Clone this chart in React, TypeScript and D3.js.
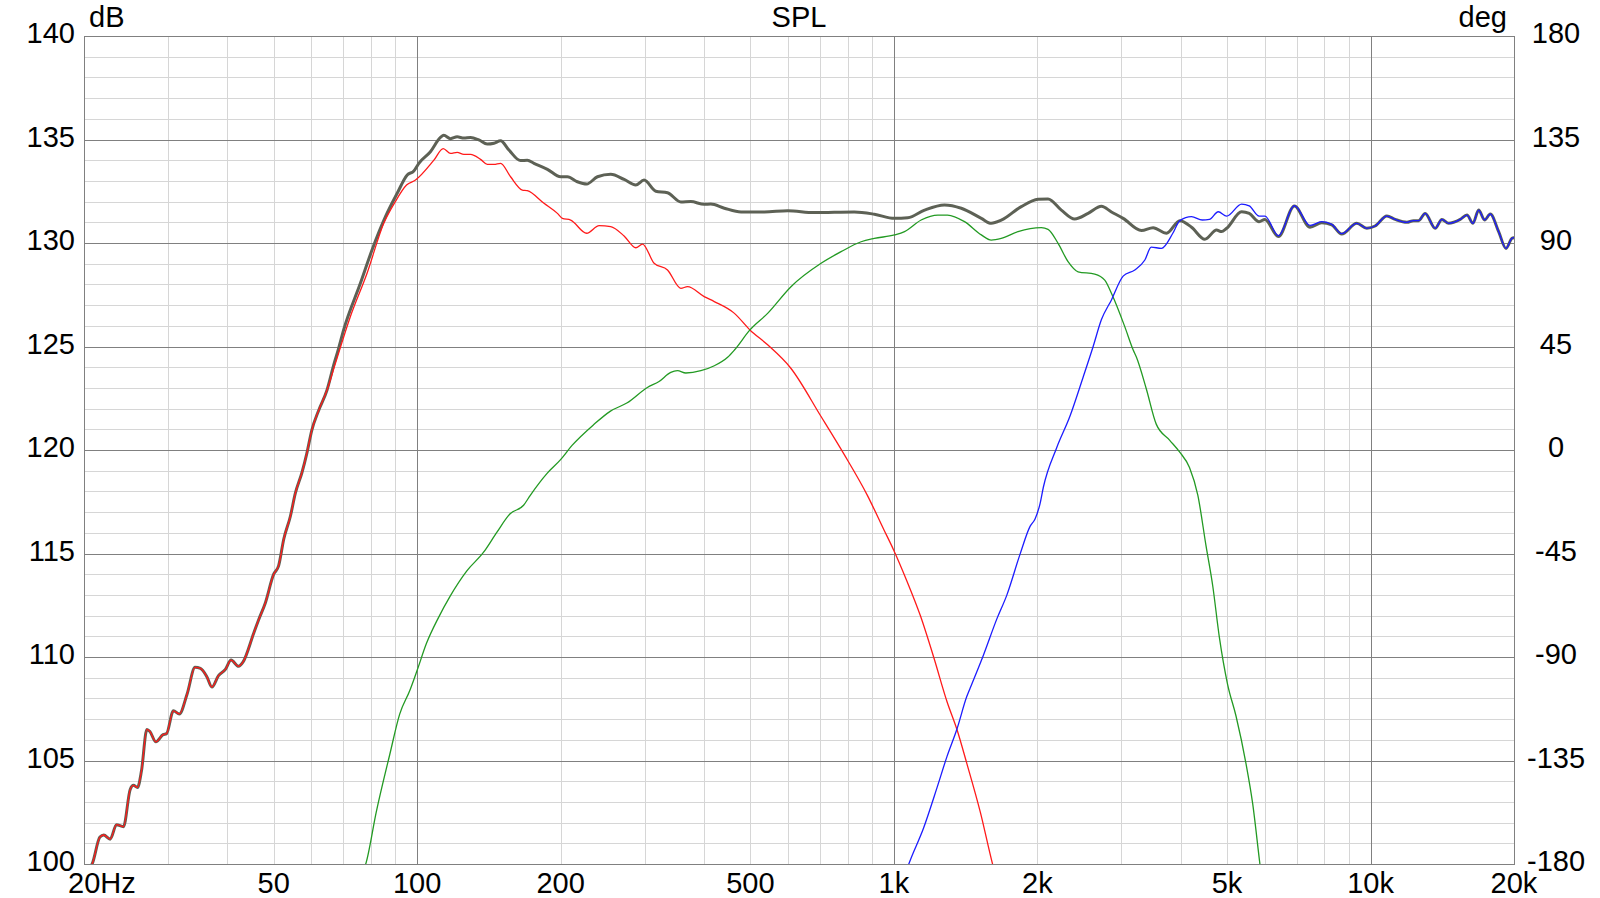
import * as d3 from "d3";

// axis ticks
const FREQ_TICKS = [20, 50, 100, 200, 500, 1000, 2000, 5000, 10000, 20000];
const FREQ_LABELS = ["20Hz", "50", "100", "200", "500", "1k", "2k", "5k", "10k", "20k"];
const DB_TICKS = [100, 105, 110, 115, 120, 125, 130, 135, 140];
const DEG_TICKS = [-180, -135, -90, -45, 0, 45, 90, 135, 180];

// total response [Hz, dB]
const SUM: [number, number][] = [
  [20, 99.6], [20.8, 100.0], [21.6, 101.3], [22.0, 101.4], [22.7, 101.2], [23.4, 101.9], [24.2, 101.8],
  [25.0, 103.6], [25.4, 103.8], [25.9, 103.7], [26.4, 104.5], [27.1, 106.5], [27.5, 106.4], [28.3, 105.9],
  [29.3, 106.25], [29.8, 106.3], [30.8, 107.4], [31.7, 107.25], [32.9, 108.2], [34.2, 109.5], [35.1, 109.45],
  [36.2, 109.05], [37.1, 108.55], [38.3, 109.1], [39.6, 109.4], [40.7, 109.85], [42.2, 109.55], [43.1, 109.75],
  [45.4, 111.15], [46.5, 111.8], [48, 112.6], [50, 114.0], [51.2, 114.4], [52.5, 115.7], [54.2, 116.8],
  [55.5, 117.9], [57.3, 118.9], [58.7, 119.85], [60.1, 120.95], [62.1, 121.9], [64.7, 122.9], [66.8, 124.1],
  [68.4, 124.9], [70.1, 125.8], [76, 128.05], [80.4, 129.66], [85.8, 131.27], [90.8, 132.4], [95.3, 133.29],
  [98.4, 133.48], [100.8, 133.85], [106.6, 134.41], [111.9, 135.1], [113.7, 135.2], [117.5, 135.04],
  [121.3, 135.13], [125.3, 135.07], [129.4, 135.1], [134.7, 134.98], [140.3, 134.78], [144.9, 134.82],
  [149.6, 134.94], [155.8, 134.49], [164.8, 133.98], [170.2, 134.0], [175.8, 133.85], [187.6, 133.56],
  [200, 133.2], [206.6, 133.2], [216.8, 132.96], [226.8, 132.85], [238.9, 133.2], [254.7, 133.32],
  [271.7, 133.07], [287.5, 132.8], [299.2, 133.04], [316.7, 132.5], [335.1, 132.43], [357.4, 131.98],
  [375, 132.0], [400, 131.87], [413, 131.88], [441, 131.68], [478, 131.5], [535, 131.5], [599, 131.56],
  [681, 131.47], [826, 131.5], [910, 131.39], [1003, 131.19], [1070, 131.22], [1160, 131.59], [1277, 131.84],
  [1385, 131.68], [1526, 131.19], [1601, 130.95], [1680, 131.1], [1851, 131.76], [2007, 132.11],
  [2106, 132.13], [2246, 131.59], [2395, 131.16], [2556, 131.43], [2726, 131.77], [2861, 131.5],
  [3027, 131.19], [3307, 130.6], [3499, 130.74], [3733, 130.47], [3981, 131.08], [4212, 130.76],
  [4493, 130.18], [4754, 130.63], [4868, 130.55], [4991, 130.71], [5365, 131.51], [5567, 131.43],
  [5838, 131.03], [6005, 131.14], [6409, 130.31], [6923, 131.79], [7467, 130.76], [7901, 130.98],
  [8294, 130.87], [8700, 130.43], [9359, 130.95], [9822, 130.71], [10224, 130.82], [10820, 131.3],
  [11265, 131.14], [11920, 131.0], [12311, 131.08], [12612, 131.08], [13022, 131.43], [13667, 130.71],
  [14118, 131.14], [14582, 130.95], [15427, 131.14], [15935, 131.35], [16403, 130.95], [16858, 131.59],
  [17354, 131.11], [17836, 131.4], [18570, 130.55], [19241, 129.74], [19807, 130.23], [20000, 130.26],
];

// woofer
const WOOFER: [number, number][] = [
  [20, 99.6], [20.8, 100.0], [21.6, 101.3], [22.0, 101.4], [22.7, 101.2], [23.4, 101.9], [24.2, 101.8],
  [25.0, 103.6], [25.4, 103.8], [25.9, 103.7], [26.4, 104.5], [27.1, 106.5], [27.5, 106.4], [28.3, 105.9],
  [29.3, 106.25], [29.8, 106.3], [30.8, 107.4], [31.7, 107.25], [32.9, 108.2], [34.2, 109.5], [35.1, 109.45],
  [36.2, 109.05], [37.1, 108.55], [38.3, 109.1], [39.6, 109.4], [40.7, 109.85], [42.2, 109.55], [43.1, 109.75],
  [45.4, 111.15], [46.5, 111.8], [48, 112.6], [50, 114.0], [51.2, 114.4], [52.5, 115.7], [54.2, 116.8],
  [55.5, 117.9], [57.3, 118.9], [58.7, 119.85], [60.1, 120.95], [62.1, 121.9], [64.7, 122.9], [67.4, 124.2],
  [72.4, 126.44], [78.5, 128.54], [85.1, 130.95], [90, 132.0], [95, 132.8], [99.2, 133.04], [108.4, 134.0],
  [113.4, 134.56], [117.5, 134.33], [121.3, 134.38], [125.3, 134.28], [129.4, 134.28], [135.8, 134.04],
  [140.3, 133.8], [144.9, 133.8], [149.6, 133.85], [157, 133.2], [166.2, 132.56], [170.2, 132.53],
  [184.5, 131.92], [196.9, 131.43], [201.7, 131.19], [209.9, 131.11], [226.8, 130.47], [240.8, 130.84],
  [254.7, 130.79], [271.7, 130.34], [287.5, 129.77], [297, 129.95], [314.1, 129.02], [335.1, 128.7],
  [357.4, 127.81], [369, 127.89], [400, 127.41], [420, 127.17], [463, 126.6], [499, 125.8], [543.5, 125.08],
  [608, 123.95], [703, 121.63], [786, 119.8], [880, 117.81], [953, 116.15], [1000, 115.15], [1066, 113.65],
  [1137, 111.99], [1212, 110.0], [1293, 107.84], [1356, 106.51], [1423, 104.85], [1518, 102.52],
  [1613, 99.95], [1660, 98.9],
];

// midrange
const MID: [number, number][] = [
  [76, 99.4], [78, 100], [82.1, 102.53], [87.6, 105.29], [91.9, 107.24], [96.5, 108.38], [100, 109.36],
  [104.6, 110.66], [110.7, 111.88], [117.2, 112.93], [127, 114.15], [137.7, 115.05], [146.9, 116.02],
  [156.7, 116.92], [167.2, 117.33], [172.7, 117.81], [187.3, 118.87], [199.7, 119.52], [211.3, 120.22],
  [234.7, 121.23], [254.4, 121.88], [275.9, 122.28], [304, 123.02], [321.7, 123.31], [340.4, 123.75],
  [351.6, 123.83], [366.1, 123.72], [393.7, 123.83], [420.1, 124.07], [448, 124.48], [463, 124.83],
  [499, 125.8], [543.5, 126.6], [608.4, 127.89], [703.6, 129.02], [775, 129.58], [853.7, 130.06],
  [910, 130.22], [1003, 130.39], [1053, 130.55], [1141, 131.11], [1237, 131.35], [1296, 131.35],
  [1407, 131.03], [1526, 130.39], [1601, 130.14], [1680, 130.22], [1822, 130.55], [2039, 130.74],
  [2106, 130.66], [2211, 129.98], [2320, 129.1], [2435, 128.61], [2639, 128.5], [2770, 128.21],
  [2870, 127.5], [3051, 125.96], [3178, 124.83], [3227, 124.49], [3385, 122.96], [3552, 121.25],
  [3788, 120.48], [3975, 119.91], [4171, 119.15], [4342, 117.82], [4520, 115.34], [4667, 113.43],
  [4818, 110.96], [5015, 108.67], [5222, 107.15], [5479, 104.86], [5657, 102.95], [5861, 100], [5950, 98.8],
];

// tweeter
const TWEETER: [number, number][] = [
  [1060, 99.6], [1075, 100], [1155, 101.75], [1232, 103.69], [1293, 105.2], [1356, 106.51], [1423, 108.1],
  [1446, 108.5], [1542, 110.1], [1644, 111.83], [1726, 112.99], [1840, 114.97], [1931, 116.31],
  [1978, 116.67], [2026, 117.4], [2059, 118.2], [2195, 120.1], [2341, 121.63], [2496, 123.53],
  [2619, 125.0], [2726, 126.3], [2861, 127.25], [3027, 128.4], [3203, 128.7], [3362, 129.18],
  [3467, 129.8], [3643, 129.74], [3848, 130.47], [3981, 131.08], [4212, 131.27], [4436, 131.11],
  [4592, 131.14], [4793, 131.51], [4991, 131.3], [5365, 131.88], [5567, 131.79], [5838, 131.3],
  [6005, 131.3], [6409, 130.35], [6923, 131.8], [7467, 130.85], [7901, 131.03], [8294, 130.9],
  [8700, 130.45], [9359, 130.95], [9822, 130.71], [10224, 130.82], [10820, 131.3], [11265, 131.14],
  [11920, 131.0], [12311, 131.08], [12612, 131.08], [13022, 131.43], [13667, 130.71], [14118, 131.14],
  [14582, 130.95], [15427, 131.14], [15935, 131.35], [16403, 130.95], [16858, 131.59], [17354, 131.11],
  [17836, 131.4], [18570, 130.55], [19241, 129.74], [19807, 130.23], [20000, 130.26],
];

const FONT = "'Liberation Sans', Arial, sans-serif";

export default function App() {
  const W = 1600, H = 898;
  const m = { top: 36, right: 86, bottom: 34, left: 84 };

  const x = d3.scaleLog().domain([20, 20000]).range([m.left, W - m.right]);
  const y = d3.scaleLinear().domain([100, 140]).range([H - m.bottom, m.top]);
  const yDeg = d3.scaleLinear().domain([-180, 180]).range([H - m.bottom, m.top]);

  const line = d3.line<[number, number]>()
    .x(d => x(d[0])).y(d => y(d[1])).curve(d3.curveMonotoneX);

  const px = (v: number) => Math.round(v) + 0.5;
  const x0 = m.left, x1 = W - m.right, y0 = m.top, y1 = H - m.bottom;

  const majorF = [100, 1000, 10000];
  const minorF = x.ticks().filter(f => f > 20 && f < 20000 && !majorF.includes(f));
  const minorDb = d3.range(101, 140).filter(v => v % 5 !== 0);
  const majorDb = DB_TICKS.filter(v => v > 100 && v < 140);

  return (
    <svg width={W} height={H} style={{ position: "absolute", left: 0, top: 0, display: "block", background: "#fff" }}
      fontFamily={FONT}>
      <defs>
        <clipPath id="plot">
          <rect x={x0} y={y0} width={x1 - x0} height={y1 - y0} />
        </clipPath>
      </defs>

      {/* minor grid */}
      <g stroke="#d6d6d6" strokeWidth={1} shapeRendering="crispEdges">
        {minorF.map(f => <line key={"mf" + f} x1={px(x(f))} x2={px(x(f))} y1={y0} y2={y1} />)}
        {minorDb.map(v => <line key={"md" + v} x1={x0} x2={x1} y1={px(y(v))} y2={px(y(v))} />)}
      </g>

      {/* major grid */}
      <g stroke="#808080" strokeWidth={1} shapeRendering="crispEdges">
        {majorF.map(f => <line key={"Mf" + f} x1={px(x(f))} x2={px(x(f))} y1={y0} y2={y1} />)}
        {majorDb.map(v => <line key={"Md" + v} x1={x0} x2={x1} y1={px(y(v))} y2={px(y(v))} />)}
        <rect x={px(x0)} y={px(y0)} width={Math.round(x1 - x0)} height={Math.round(y1 - y0)} fill="none" />
      </g>

      {/* curves */}
      <g clipPath="url(#plot)" fill="none" strokeLinejoin="round" strokeLinecap="round">
        <path d={line(SUM) ?? ""} stroke="#5d6155" strokeWidth={3} />
        <path d={line(WOOFER) ?? ""} stroke="#ff1a1a" strokeWidth={1.3} />
        <path d={line(MID) ?? ""} stroke="#239a23" strokeWidth={1.3} />
        <path d={line(TWEETER) ?? ""} stroke="#1c1cff" strokeWidth={1.3} />
      </g>

      {/* left axis */}
      <g fontSize={29} fill="#000" textAnchor="end">
        {DB_TICKS.map(v => <text key={"l" + v} x={x0 - 9} y={y(v) + 7}>{v}</text>)}
      </g>

      {/* right axis */}
      <g fontSize={29} fill="#000" textAnchor="middle">
        {DEG_TICKS.map(v => <text key={"r" + v} x={x1 + 42} y={yDeg(v) + 7}>{v}</text>)}
      </g>

      {/* bottom axis */}
      <g fontSize={29} fill="#000">
        {FREQ_TICKS.map((f, i) => i === 0
          ? <text key={"b" + f} x={x(f) - 16} y={H - 5} textAnchor="start">{FREQ_LABELS[i]}</text>
          : <text key={"b" + f} x={x(f)} y={H - 5} textAnchor="middle">{FREQ_LABELS[i]}</text>)}
      </g>

      {/* titles */}
      <text x={x0 + 5} y={27} fontSize={29}>dB</text>
      <text x={(x0 + x1) / 2} y={27} fontSize={29} textAnchor="middle">SPL</text>
      <text x={x1 - 7} y={27} fontSize={29} textAnchor="end">deg</text>
    </svg>
  );
}
